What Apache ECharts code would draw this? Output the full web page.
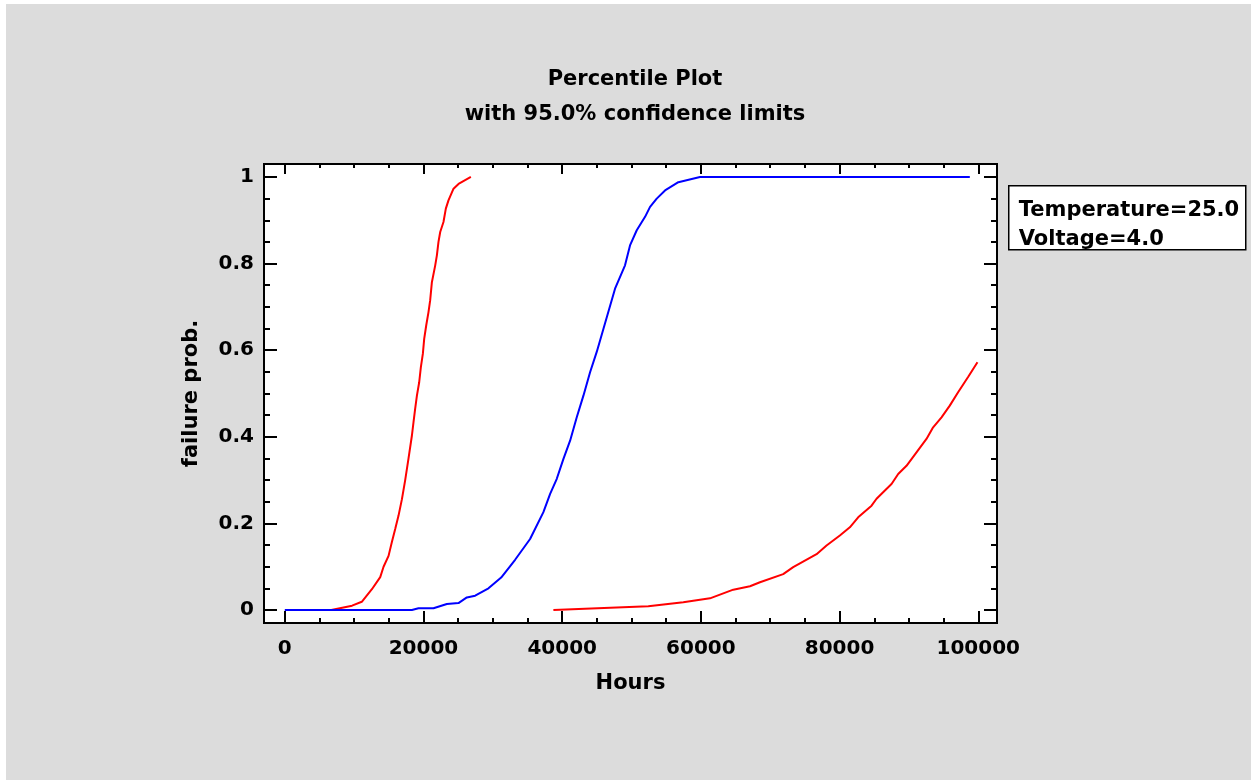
<!DOCTYPE html>
<html>
<head>
<meta charset="utf-8">
<script src="https://cdn.jsdelivr.net/npm/echarts@6/dist/echarts.min.js"></script>
<style>
  body { margin: 0; background: #fff; }
  #bg { position: absolute; left: 6px; top: 4px; width: 1245px; height: 776px; background: #dcdcdc; }
  #main { position: absolute; left: 0; top: 0; width: 1251px; height: 780px; }
</style>
</head>
<body>
<div id="bg"></div>
<div id="main"></div>
<script>
// tick labels
var hourTicks = [0, 20000, 40000, 60000, 80000, 100000]
var hourMinor = [5000, 10000, 15000, 25000, 30000, 35000, 45000, 50000, 55000, 65000, 70000, 75000, 85000, 90000, 95000]
var probTicks = [0, 0.2, 0.4, 0.6, 0.8, 1]
var probMinor = [0.05, 0.1, 0.15, 0.25, 0.3, 0.35, 0.45, 0.5, 0.55, 0.65, 0.7, 0.75, 0.85, 0.9, 0.95]

// upper limit (red, left)
var upperHours = [6700, 9700, 11100, 12560, 13760, 14240, 14960, 15440, 15920, 16400, 16890, 17360, 17840, 18330, 18560, 18800, 19050, 19380, 19620, 19910, 20100, 20390, 20720, 20960, 21210, 21690, 21930, 22160, 22410, 22880, 23220, 23600, 24330, 25050, 26830]
var upperProb = [0, 0.01, 0.019, 0.048, 0.076, 0.10, 0.125, 0.157, 0.187, 0.218, 0.256, 0.30, 0.35, 0.403, 0.434, 0.465, 0.495, 0.526, 0.561, 0.592, 0.626, 0.657, 0.688, 0.715, 0.757, 0.796, 0.819, 0.85, 0.873, 0.896, 0.927, 0.946, 0.973, 0.984, 1.0]

// fitted (blue)
var fitHours = [0, 18330, 19280, 21440, 23370, 25040, 26250, 27450, 29370, 31200, 33210, 35370, 37290, 38260, 39220, 40180, 41140, 41620, 42100, 43060, 44020, 44980, 45940, 47620, 49060, 49780, 50750, 51950, 52670, 53630, 54830, 56750, 59870, 98780]
var fitProb = [0, 0, 0.004, 0.004, 0.014, 0.016, 0.029, 0.033, 0.05, 0.075, 0.116, 0.164, 0.226, 0.268, 0.303, 0.349, 0.391, 0.418, 0.445, 0.495, 0.549, 0.596, 0.649, 0.742, 0.796, 0.842, 0.877, 0.908, 0.931, 0.95, 0.969, 0.988, 1.0, 1.0]

// lower limit (red, right)
var lowerHours = [38730, 52420, 57460, 61310, 64670, 67080, 68520, 71870, 73310, 76680, 78120, 80040, 81480, 82680, 84610, 85330, 87490, 88450, 89650, 91090, 92530, 93490, 94700, 95890, 97090, 98530, 99880]
var lowerProb = [0, 0.0085, 0.018, 0.027, 0.047, 0.055, 0.064, 0.083, 0.099, 0.129, 0.149, 0.172, 0.191, 0.214, 0.241, 0.257, 0.291, 0.314, 0.333, 0.364, 0.395, 0.422, 0.445, 0.472, 0.503, 0.538, 0.572]

var legendLines = ['Temperature=25.0', 'Voltage=4.0']

function zip(xs, ys) {
  return xs.map(function (x, i) { return [x, ys[i]] })
}

var font = '"DejaVu Sans", sans-serif'
var xMin = -3000, xMax = 102700
var yMin = -0.03, yMax = 1.03

// one axis per tick set, all sharing the same scale
function xAxisOf(pos, ticks, len, labels) {
  return {
    type: 'value', position: pos, min: xMin, max: xMax,
    axisLine: { show: false, onZero: false }, splitLine: { show: false },
    axisTick: { show: true, inside: true, length: len, customValues: ticks, lineStyle: { color: '#000', width: 2 } },
    axisLabel: labels ? {
      show: true, customValues: ticks, margin: 16, color: '#000', fontSize: 20, fontWeight: 'bold', fontFamily: font,
      formatter: function (v) { return String(v) }
    } : { show: false }
  }
}
function yAxisOf(pos, ticks, len, labels) {
  return {
    type: 'value', position: pos, min: yMin, max: yMax,
    axisLine: { show: false, onZero: false }, splitLine: { show: false },
    axisTick: { show: true, inside: true, length: len, customValues: ticks, lineStyle: { color: '#000', width: 2 } },
    axisLabel: labels ? {
      show: true, customValues: ticks, margin: 10, color: '#000', fontSize: 20, fontWeight: 'bold', fontFamily: font,
      formatter: function (v) { return String(Math.round(v * 10) / 10) }
    } : { show: false }
  }
}

var xAxes = [
  xAxisOf('bottom', hourTicks, 12, true),
  xAxisOf('bottom', hourMinor, 5, false),
  xAxisOf('top', hourTicks, 10, false),
  xAxisOf('top', hourMinor, 4, false)
]
xAxes[0].name = 'Hours'
xAxes[0].nameLocation = 'middle'
xAxes[0].nameGap = 50
xAxes[0].nameTextStyle = { color: '#000', fontSize: 21, fontWeight: 'bold', fontFamily: font }

var yAxes = [
  yAxisOf('left', probTicks, 13, true),
  yAxisOf('left', probMinor, 6, false),
  yAxisOf('right', probTicks, 13, false),
  yAxisOf('right', probMinor, 6, false)
]
yAxes[0].name = 'failure prob.'
yAxes[0].nameLocation = 'middle'
yAxes[0].nameGap = 62
yAxes[0].nameTextStyle = { color: '#000', fontSize: 21, fontWeight: 'bold', fontFamily: font }

var chart = echarts.init(document.getElementById('main'))
var option = {
  backgroundColor: 'transparent',
  animation: false,
  title: {
    text: 'Percentile Plot\nwith 95.0% confidence limits',
    left: 630, top: 57, textAlign: 'center',
    textStyle: { color: '#000', fontSize: 21, fontWeight: 'bold', fontFamily: font, lineHeight: 35 }
  },
  grid: {
    left: 264, top: 164, right: 254, bottom: 157,
    show: true, backgroundColor: '#fff', borderColor: '#000', borderWidth: 2
  },
  xAxis: xAxes,
  yAxis: yAxes,
  graphic: [{
    type: 'group', left: 1008, top: 185,
    children: [
      { type: 'rect', shape: { x: 0, y: 0, width: 237, height: 64 }, style: { fill: '#fff', stroke: '#000', lineWidth: 1.5 } },
      { type: 'text', x: 10, y: 25, style: { text: legendLines[0], fill: '#000', font: 'bold 21px ' + font, verticalAlign: 'middle' } },
      { type: 'text', x: 10, y: 54, style: { text: legendLines[1], fill: '#000', font: 'bold 21px ' + font, verticalAlign: 'middle' } }
    ]
  }],
  series: [
    { type: 'line', data: zip(upperHours, upperProb), showSymbol: false, lineStyle: { color: '#ff0000', width: 2 } },
    { type: 'line', data: zip(fitHours, fitProb), showSymbol: false, lineStyle: { color: '#0000ff', width: 2 } },
    { type: 'line', data: zip(lowerHours, lowerProb), showSymbol: false, lineStyle: { color: '#ff0000', width: 2 } }
  ]
}
chart.setOption(option)
</script>
</body>
</html>
